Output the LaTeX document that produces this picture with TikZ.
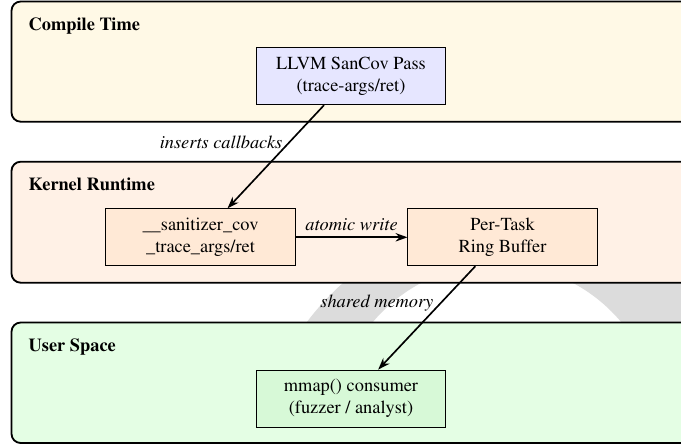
\documentclass[tikz,border=0pt]{standalone}
\usepackage[T1]{fontenc}
\usepackage{mathptmx}
\usetikzlibrary{arrows.meta}
\definecolor{laneA}{HTML}{FFF9E6}
\definecolor{laneB}{HTML}{FFF1E6}
\definecolor{laneC}{HTML}{E4FEE4}
\definecolor{boxA}{HTML}{E6E6FF}
\definecolor{boxB}{HTML}{FFE9D6}
\definecolor{boxC}{HTML}{D7F9D7}
\definecolor{ringgray}{HTML}{DCDCDC}
\begin{document}
\begin{tikzpicture}[x=0.5447pt,y=-0.5447pt,
  lane/.style={draw=black, line width=1pt, rounded corners=5pt},
  box/.style={draw=black, line width=0.5pt, minimum width=103pt, minimum height=31pt,
    align=center, font=\fontsize{10}{12}\selectfont, inner sep=2pt},
  arr/.style={-{Stealth[length=6.5pt,width=4.6pt]}, line width=0.9pt},
  lbl/.style={font=\fontsize{10}{12}\selectfont\itshape},
  lanetitle/.style={font=\fontsize{10}{12}\selectfont\bfseries, anchor=base west, inner sep=0pt}]
\useasboundingbox (0,0) rectangle (681,444);
\clip (0,0) rectangle (681,444);
% background crescent
\fill[ringgray, even odd rule] (520,482.5) circle[radius=145.3pt] (497,426) circle[radius=88.2pt];
% lanes
\draw[lane, fill=laneA] (11.5,1.5) rectangle (720,121.7);
\draw[lane, fill=laneB] (11.5,161.7) rectangle (720,282.7);
\draw[lane, fill=laneC] (11.5,322.5) rectangle (720,443);
\node[lanetitle] (tA) at (28.3,30.3) {Compile Time};
\node[lanetitle] (tB) at (28.3,190.8) {Kernel Runtime};
\node[lanetitle] (tC) at (28.3,351.3) {User Space};
% boxes
\node[box, fill=boxA] (llvm) at (351,76.3) {LLVM SanCov Pass\\(trace-args/ret)};
\node[box, fill=boxB] (san) at (200.5,237.3) {\_\_sanitizer\_cov\\\_trace\_args/ret};
\node[box, fill=boxB] (ring) at (502.5,237.3) {Per-Task\\Ring Buffer};
\node[box, fill=boxC] (mmap) at (351,398.5) {mmap() consumer\\(fuzzer / analyst)};
% arrows
\draw[arr] (llvm) -- node[lbl, pos=0.36, left] {inserts callbacks} (san);
\draw[arr] (san) -- node[lbl, above] {atomic write} (ring);
\draw[arr] (ring) -- node[lbl, pos=0.36, left] {shared memory} (mmap);
\end{tikzpicture}
\end{document}
